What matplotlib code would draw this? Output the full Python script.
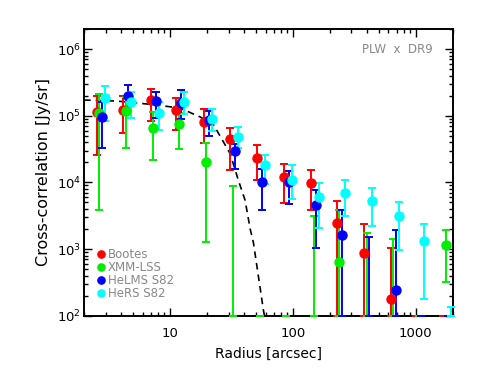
import numpy as np
import matplotlib
matplotlib.use("Agg")
import matplotlib.pyplot as plt
from matplotlib.ticker import LogLocator, NullFormatter, FixedLocator, FixedFormatter

# ---------------- data ----------------
radius_bins = [2.54, 4.19, 6.97, 11.3, 18.9, 30.9, 51.4, 84.8, 141, 229, 380, 627, 1014, 1680]
nan = np.nan

series_names = ["Bootes", "XMM-LSS", "HeLMS S82", "HeRS S82"]
series_colors = ["#ff0000", "#00ee00", "#0000ff", "#00ffff"]
series_shift = [1.0, 1.047, 1.096, 1.16]   # small horizontal offsets per field

bootes_val = [1.12e5, 1.23e5, 1.7e5, 1.2e5, 8.1e4, 4.4e4, 2.35e4, 1.2e4, 9.8e3, 2.5e3, 8.6e2, 1.8e2, nan, nan]
bootes_lo  = [2.6e4, 5.5e4, 8.3e4, 6.2e4, 3.9e4, 1.55e4, 1.07e4, 4.9e3, 3.8e3, 0, 0, 0, 0, 0]
bootes_hi  = [1.95e5, 1.95e5, 2.5e5, 1.85e5, 1.25e5, 6.6e4, 3.6e4, 1.9e4, 1.55e4, 5.2e3, 2.4e3, 1.04e3, 50, 50]

xmm_val = [1.1e5, 1.17e5, 6.6e4, 7.6e4, 2.0e4, nan, nan, nan, nan, 6.3e2, nan, nan, nan, 1.15e3]
xmm_lo  = [3.8e3, 3.3e4, 2.2e4, 3.2e4, 1.26e3, 0, 0, 0, 0, 0, 0, 0, 0, 3.2e2]
xmm_hi  = [2.1e5, 1.9e5, 1.12e5, 1.1e5, 3.85e4, 8.7e3, 50, 50, 3.1e3, 3.8e3, 1.73e3, 1.4e3, 50, 1.95e3]

helms_val = [9.6e4, 2.0e5, 1.65e5, 1.55e5, 8.6e4, 3.0e4, 1.0e4, 1.0e4, 4.5e3, 1.6e3, nan, 2.4e2, nan, nan]
helms_lo  = [3.3e4, 1.3e5, 9.4e4, 9.0e4, 4.9e4, 1.6e4, 3.9e3, 4.8e3, 1.03e3, 0, 0, 0, 0, 0]
helms_hi  = [1.6e5, 2.9e5, 2.3e5, 2.4e5, 1.17e5, 3.8e4, 1.6e4, 1.5e4, 7.8e3, 3.9e3, 1.5e3, 1.96e3, 50, 50]

hers_val = [1.87e5, 1.6e5, 1.1e5, 1.6e5, 8.9e4, 4.8e4, 1.8e4, 1.1e4, 6.0e3, 6.9e3, 5.2e3, 3.1e3, 1.3e3, nan]
hers_lo  = [8.3e4, 9.1e4, 6.2e4, 1.07e5, 6.0e4, 3.3e4, 9.6e3, 5.6e3, 2.05e3, 3.1e3, 2.25e3, 9.7e2, 1.8e2, 0]
hers_hi  = [2.8e5, 2.3e5, 1.6e5, 2.25e5, 1.25e5, 6.7e4, 2.6e4, 1.8e4, 9.9e3, 1.07e4, 8.3e3, 5.1e3, 2.4e3, 1.35e2]

# model (beam) curve
model_r   = [2.0, 3.7, 7.8, 12.1, 17.6, 22.6, 30.9, 36.1, 40.9, 45.0, 47.8, 57.7, 59.5]
model_val = [1.72e5, 1.66e5, 1.45e5, 1.3e5, 9.6e4, 7.4e4, 2.7e4, 1.07e4, 5.4e3, 2.0e3, 1.25e3, 1.2e2, 9.0e1]

x_ticks = [10, 100, 1000]
x_ticklabels = ["10", "100", "1000"]
xlim = (2.0, 2000.0)
ylim = (1e2, 2.0e6)

# ---------------- figure ----------------
plt.rcParams['font.family'] = ['DejaVu Sans']
fig = plt.figure(figsize=(4.78, 3.74), dpi=100)
ax = fig.add_axes([84/478, 1-315.7/374, (452.7-84)/478, (315.7-29)/374])
ax.set_xscale('log')
ax.set_yscale('log')
ax.set_xlim(*xlim)
ax.set_ylim(*ylim)

ax.plot(model_r, model_val, color='black', ls=(0, (4, 3)), lw=1.2, zorder=4)

all_val = [bootes_val, xmm_val, helms_val, hers_val]
all_lo = [bootes_lo, xmm_lo, helms_lo, hers_lo]
all_hi = [bootes_hi, xmm_hi, helms_hi, hers_hi]

handles = []
for name, col, sh, v, lo, hi in zip(series_names, series_colors, series_shift, all_val, all_lo, all_hi):
    r = np.array(radius_bins) * sh
    v = np.array(v, dtype=float)
    lo_c = np.clip(np.array(lo, dtype=float), ylim[0], None)
    hi_c = np.clip(np.array(hi, dtype=float), ylim[0], None)
    ax.vlines(r, lo_c, hi_c, colors=col, lw=1.4, zorder=5, clip_on=False)
    ax.plot(r, lo_c, ls='none', marker='_', ms=6, mew=1.4, color=col, zorder=5, clip_on=False)
    ax.plot(r, hi_c, ls='none', marker='_', ms=6, mew=1.4, color=col, zorder=5, clip_on=False)
    h, = ax.plot(r, v, ls='none', marker='o', ms=6.5, color=col, mec=col, zorder=6, label=name)
    handles.append(h)

leg = ax.legend(handles=handles, loc='lower left', bbox_to_anchor=(0.038, 0.055),
                frameon=False, fontsize=8.5, labelcolor='#888888', handlelength=0.5,
                handletextpad=0.35, labelspacing=0.0, borderpad=0, borderaxespad=0,
                markerscale=0.8)

ax.text(0.947, 0.93, "PLW  x  DR9", transform=ax.transAxes, ha='right', va='center',
        fontsize=8.5, color='#888888')

ax.xaxis.set_major_locator(FixedLocator(x_ticks))
ax.xaxis.set_major_formatter(FixedFormatter(x_ticklabels))
ax.xaxis.set_minor_locator(LogLocator(base=10, subs=np.arange(2, 10)))
ax.xaxis.set_minor_formatter(NullFormatter())
ax.yaxis.set_major_locator(LogLocator(base=10, numticks=10))
ax.yaxis.set_minor_locator(LogLocator(base=10, subs=np.arange(2, 10), numticks=10))
ax.yaxis.set_minor_formatter(NullFormatter())

ax.tick_params(which='both', direction='in', top=True, right=True, width=1.0, colors='black')
ax.tick_params(which='major', length=6)
ax.tick_params(which='minor', length=3)
ax.tick_params(axis='x', which='major', pad=8, labelsize=9.5)
ax.tick_params(axis='y', which='major', pad=2, labelsize=9.5)
for s in ax.spines.values():
    s.set_linewidth(1.4)

ax.set_xlabel("Radius [arcsec]", fontsize=10, labelpad=5)
ax.set_ylabel("Cross-correlation [Jy/sr]", fontsize=11.5, labelpad=4)

fig.savefig("out.png", dpi=100)
